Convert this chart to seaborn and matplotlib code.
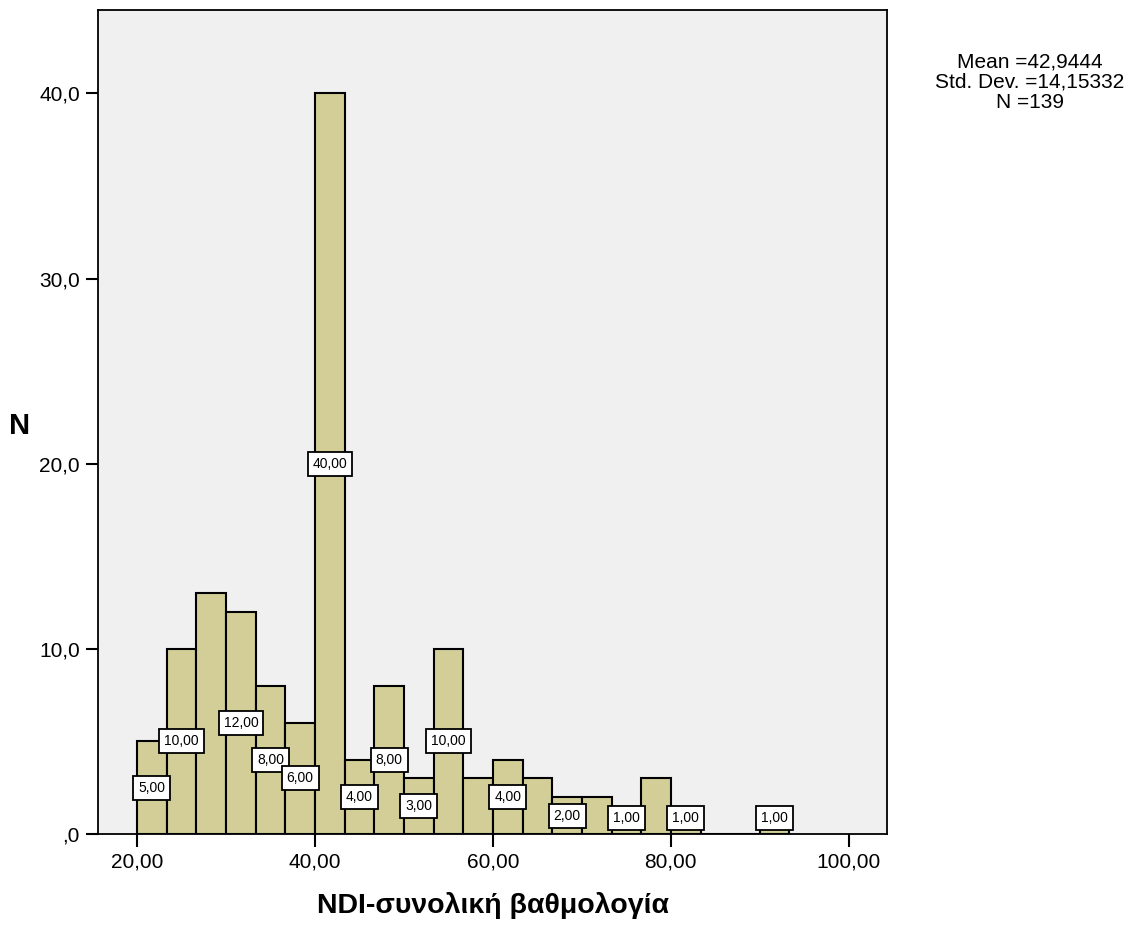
import numpy as np
import pandas as pd
import seaborn as sns
import matplotlib.pyplot as plt
from matplotlib.ticker import FuncFormatter

# Histogram counts (bin width 10/3, starting at 20)
bin_start = 20.0
bin_width = 10.0 / 3.0
counts = [5, 10, 13, 12, 8, 6, 40, 4, 8, 3, 10, 3, 4, 3, 2, 2, 1, 3, 1, 0, 0, 1]
# which bins carry a value label in the original
labelled = [True, True, False, True, True, True, True, True, True, True, True,
            False, True, False, True, False, True, False, True, False, False, True]

x_ticks = [20, 40, 60, 80, 100]
y_ticks = [0, 10, 20, 30, 40]
stats_text = "Mean =42,9444\nStd. Dev. =14,15332\nN =139"

edges = bin_start + bin_width * np.arange(len(counts) + 1)
centers = (edges[:-1] + edges[1:]) / 2
df = pd.DataFrame({'NDI': centers, 'count': counts})

sns.set_style("white")
plt.rcParams['font.family'] = ['Liberation Sans', 'DejaVu Sans']
plt.rcParams['text.color'] = 'black'

fig = plt.figure(figsize=(11.33, 9.27), dpi=100)
ax = fig.add_axes([0.0865, 0.1003, 0.6964, 0.8889])
ax.set_facecolor('#F0F0F0')

sns.histplot(data=df, x='NDI', weights='count', binwidth=bin_width,
             binrange=(edges[0], edges[-1]), ax=ax,
             color='#D3CE97', edgecolor='black', linewidth=1.5, alpha=1)

# value labels in boxes
for c, h, lab in zip(centers, counts, labelled):
    if not lab:
        continue
    y = max(h / 2, 0.87)
    ax.text(c, y, f"{h:.2f}".replace('.', ','), ha='center', va='center',
            fontsize=10, color='black', zorder=5,
            bbox=dict(boxstyle='square,pad=0.36', facecolor='white',
                      edgecolor='black', linewidth=1.3))

ax.set_xlim(15.6, 104.3)
ax.set_ylim(0, 44.5)
ax.set_xticks(x_ticks)
ax.set_yticks(y_ticks)
ax.xaxis.set_major_formatter(FuncFormatter(lambda v, p: f"{v:.2f}".replace('.', ',')))
ax.yaxis.set_major_formatter(FuncFormatter(
    lambda v, p: ',0' if v == 0 else f"{v:.1f}".replace('.', ',')))
ax.tick_params(axis='both', direction='out', length=9, width=1.5,
               labelsize=15, colors='black', bottom=True, left=True, pad=4)

for s in ax.spines.values():
    s.set_visible(True)
    s.set_color('black')
    s.set_linewidth(1.3)

ax.set_xlabel('NDI-συνολική βαθμολογία', fontsize=20.5, fontweight='bold',
              color='black')
ax.xaxis.set_label_coords(0.5, -0.070)
ax.set_ylabel('N', fontsize=21, fontweight='bold', rotation=0, color='black',
              va='center', ha='center')
ax.yaxis.set_label_coords(-0.099, 0.495)

fig.text(0.909, 0.943, stats_text, ha='center', va='top', fontsize=15,
         linespacing=1.06, color='black')

fig.savefig('out.png', dpi=100, facecolor='white')
